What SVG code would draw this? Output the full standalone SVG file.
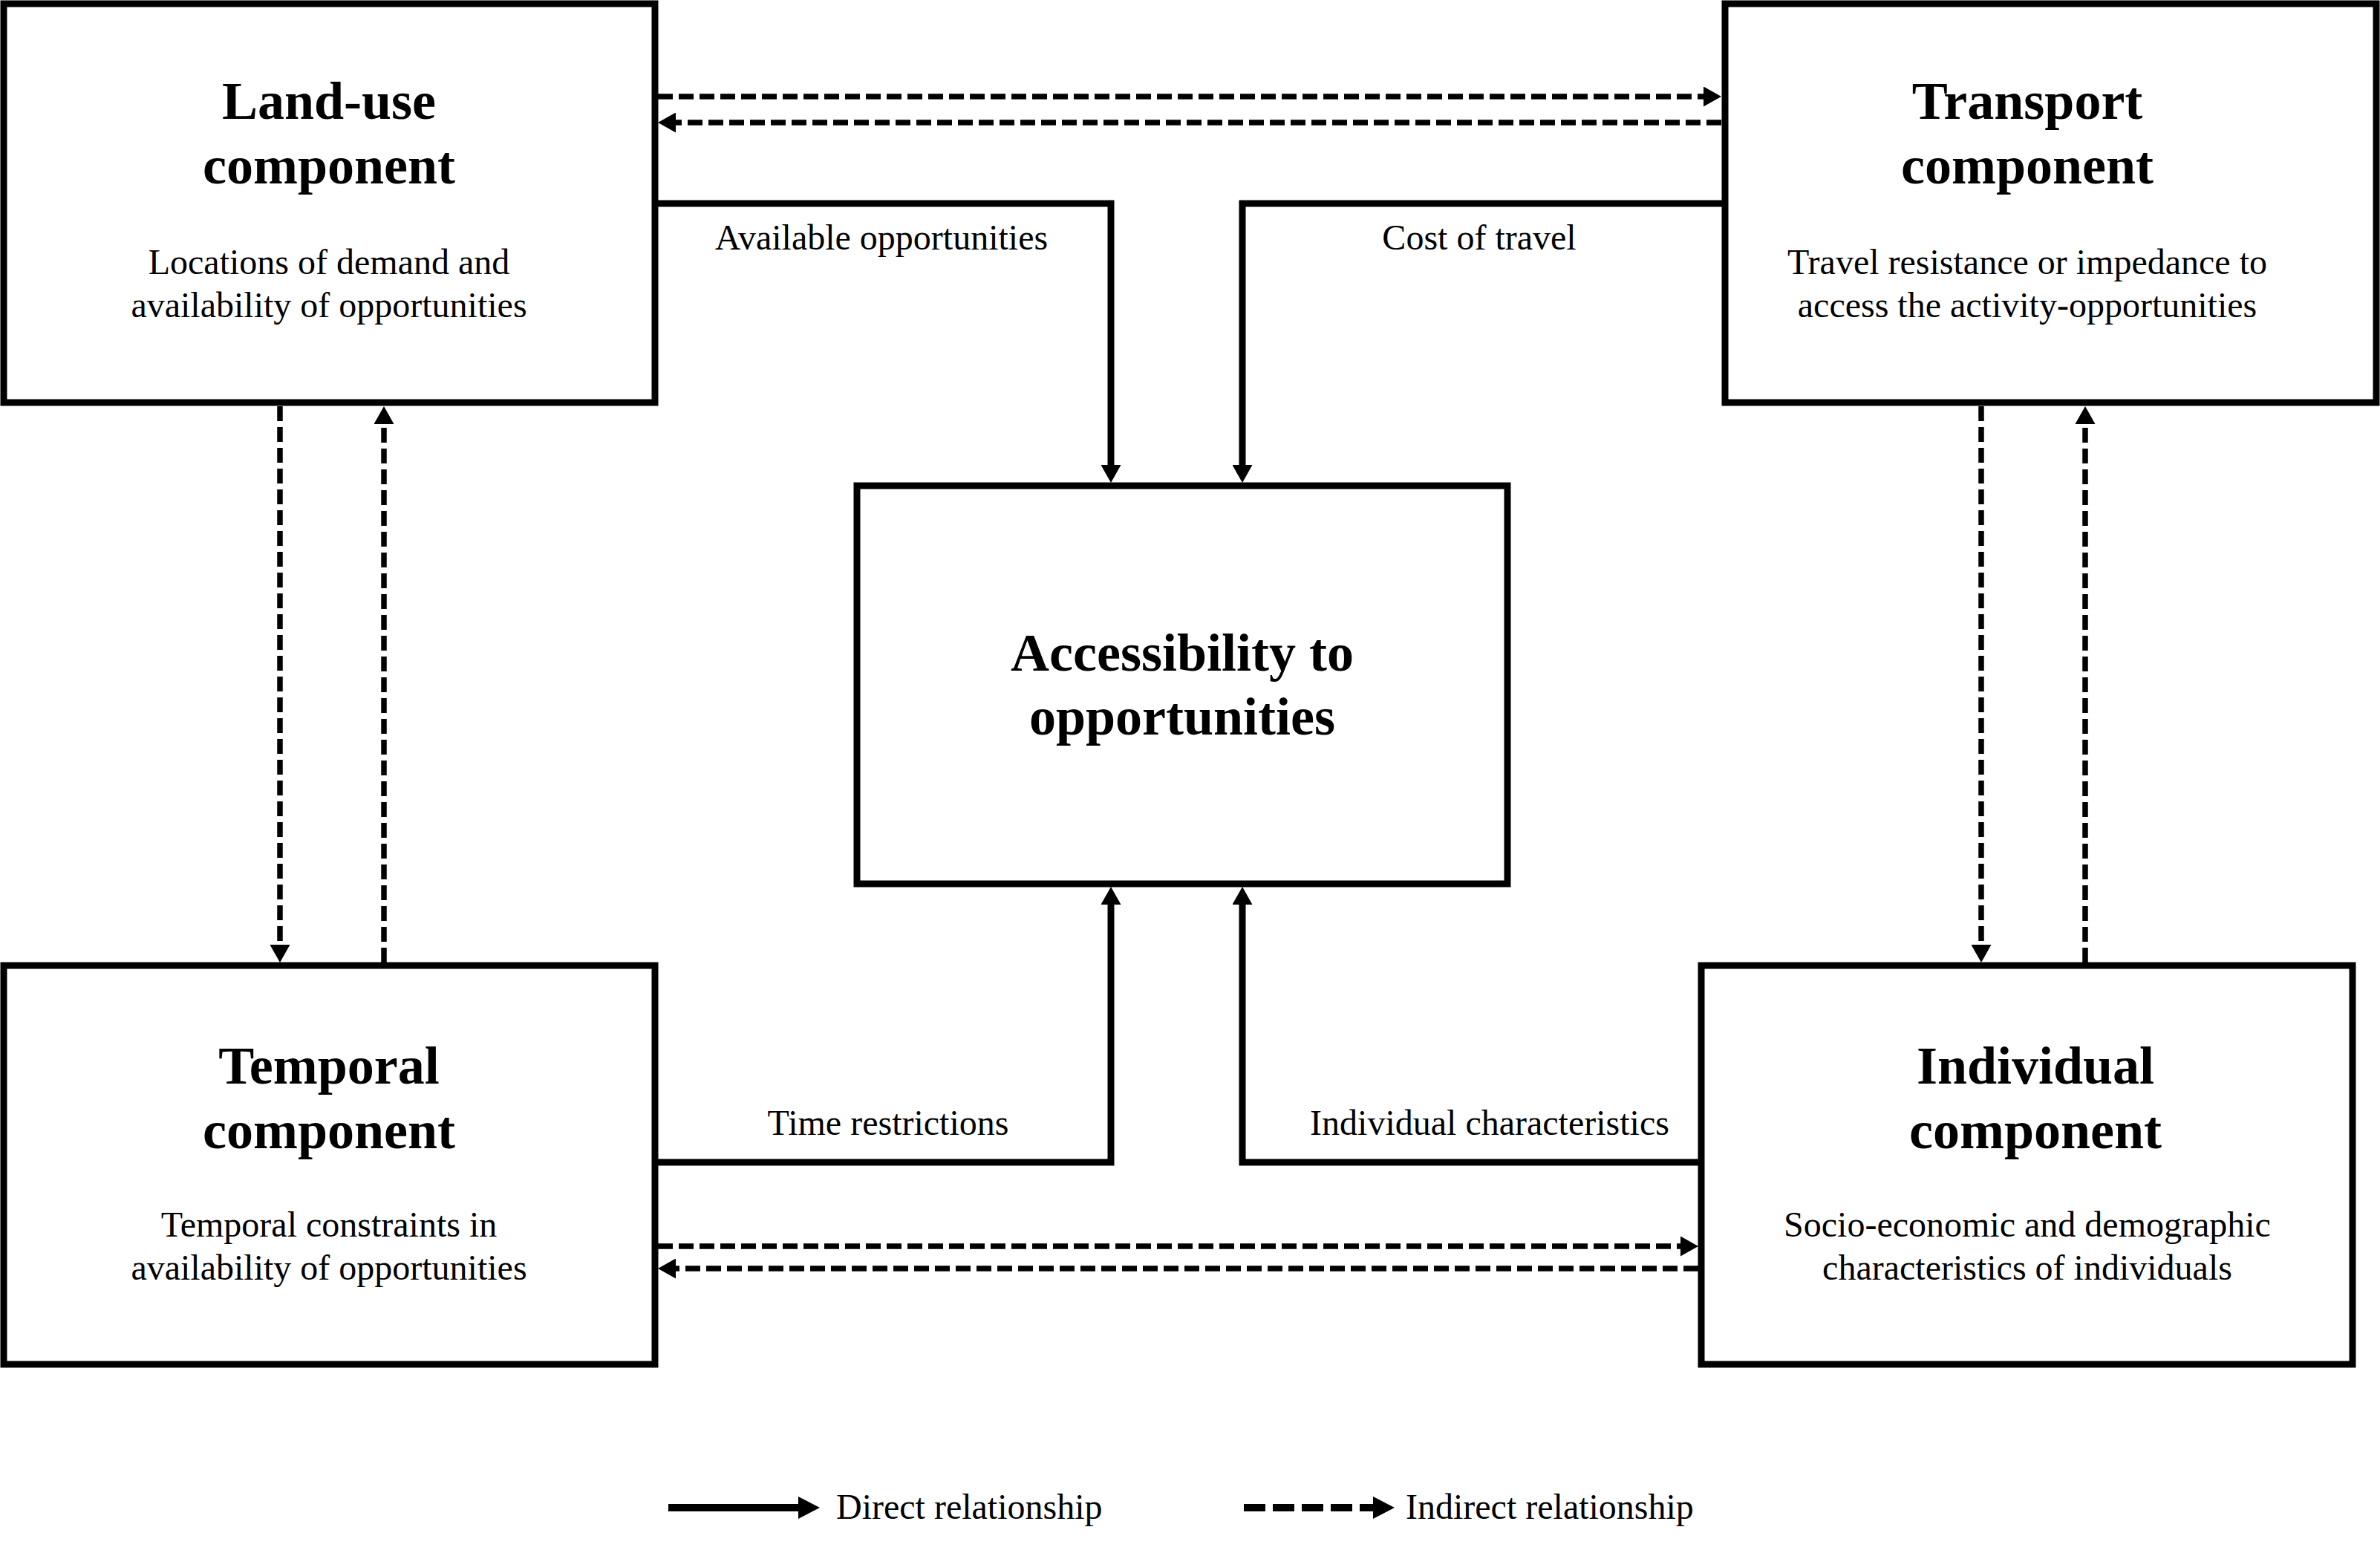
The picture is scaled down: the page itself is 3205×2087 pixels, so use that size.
<svg xmlns="http://www.w3.org/2000/svg" width="3205" height="2087" viewBox="0 0 3205 2087">
<style>
.box{fill:#fff;stroke:#000;stroke-width:9}
.title{font-family:"Liberation Serif","Times New Roman",serif;font-weight:bold;font-size:72px;text-anchor:middle;fill:#000}
.sub{font-family:"Liberation Serif","Times New Roman",serif;font-size:48px;text-anchor:middle;fill:#000}
.lbl{font-family:"Liberation Serif","Times New Roman",serif;font-size:48px;fill:#000}
.solid{fill:none;stroke:#000;stroke-width:9;stroke-linejoin:miter;stroke-linecap:butt}
.dash{fill:none;stroke:#000;stroke-width:7.5;stroke-dasharray:20 8;stroke-linecap:butt}
</style>
<defs>
<marker id="ah" markerUnits="userSpaceOnUse" markerWidth="24" markerHeight="27" viewBox="0 0 24 27" refX="6" refY="13.5" orient="auto">
<path d="M0,0 L24,13.5 L0,27 Z" fill="#000"/>
</marker>
<marker id="ahl" markerUnits="userSpaceOnUse" markerWidth="29" markerHeight="30" viewBox="0 0 29 30" refX="4" refY="15" orient="auto">
<path d="M0,0 L29,15 L0,30 Z" fill="#000"/>
</marker>
</defs>
<rect width="3205" height="2087" fill="#fff"/>

<g id="connectors">
<path class="solid" d="M882,274 H1496 V632" marker-end="url(#ah)"/>
<path class="solid" d="M2323,274 H1673 V632" marker-end="url(#ah)"/>
<path class="solid" d="M882,1565 H1496 V1212" marker-end="url(#ah)"/>
<path class="solid" d="M2291,1565 H1673 V1212" marker-end="url(#ah)"/>
<path class="dash" d="M886,130 H2300" marker-end="url(#ah)"/>
<path class="dash" d="M2318,165 H904" marker-end="url(#ah)"/>
<path class="dash" d="M377,547 V1278" marker-end="url(#ah)"/>
<path class="dash" d="M517,1296 V565" marker-end="url(#ah)"/>
<path class="dash" d="M2668,547 V1278" marker-end="url(#ah)"/>
<path class="dash" d="M2808,1296 V565" marker-end="url(#ah)"/>
<path class="dash" d="M886,1678 H2269" marker-end="url(#ah)"/>
<path class="dash" d="M2287,1708 H904" marker-end="url(#ah)"/>
<text class="lbl" x="1187" y="336" text-anchor="middle">Available opportunities</text>
<text class="lbl" x="1992" y="336" text-anchor="middle">Cost of travel</text>
<text class="lbl" x="1196" y="1528" text-anchor="middle">Time restrictions</text>
<text class="lbl" x="2006" y="1528" text-anchor="middle">Individual characteristics</text>
</g>

<g id="landuse">
<rect class="box" x="5" y="5" width="877" height="537"/>
<text class="title" x="443" y="160">Land-use</text>
<text class="title" x="443" y="247">component</text>
<text class="sub" x="443" y="369">Locations of demand and</text>
<text class="sub" x="443" y="427">availability of opportunities</text>
</g>

<g id="transport">
<rect class="box" x="2323" y="5" width="877" height="537"/>
<text class="title" x="2730" y="160">Transport</text>
<text class="title" x="2730" y="247">component</text>
<text class="sub" x="2730" y="369">Travel resistance or impedance to</text>
<text class="sub" x="2730" y="427">access the activity-opportunities</text>
</g>

<g id="accessibility">
<rect class="box" x="1154" y="654" width="876" height="536"/>
<text class="title" x="1592" y="903">Accessibility to</text>
<text class="title" x="1592" y="989">opportunities</text>
</g>

<g id="temporal">
<rect class="box" x="5" y="1300" width="877" height="537"/>
<text class="title" x="443" y="1459">Temporal</text>
<text class="title" x="443" y="1546">component</text>
<text class="sub" x="443" y="1665">Temporal constraints in</text>
<text class="sub" x="443" y="1723">availability of opportunities</text>
</g>

<g id="individual">
<rect class="box" x="2291" y="1300" width="877" height="537"/>
<text class="title" x="2741" y="1459">Individual</text>
<text class="title" x="2741" y="1546">component</text>
<text class="sub" x="2730" y="1665">Socio-economic and demographic</text>
<text class="sub" x="2730" y="1723">characteristics of individuals</text>
</g>

<g id="legend">
<path d="M900,2030 H1079" stroke="#000" stroke-width="10" fill="none" marker-end="url(#ahl)"/>
<text class="lbl" x="1126" y="2045">Direct relationship</text>
<path d="M1675,2030 H1853" stroke="#000" stroke-width="10" stroke-dasharray="29 10" fill="none" marker-end="url(#ahl)"/>
<text class="lbl" x="1893" y="2045">Indirect relationship</text>
</g>
</svg>
